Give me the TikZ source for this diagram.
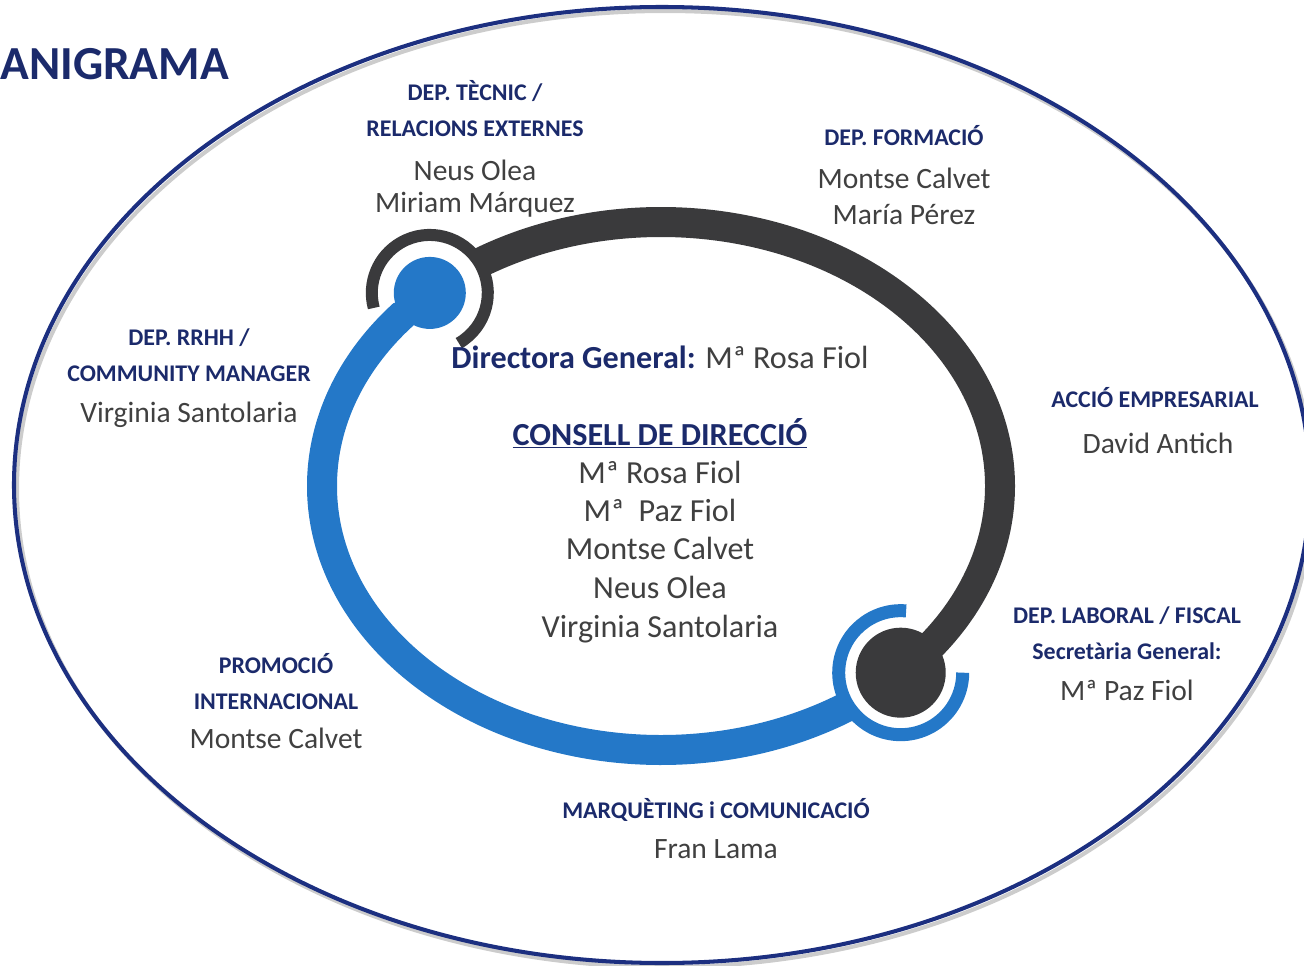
\documentclass[tikz,border=0pt]{standalone}
\usepackage{fontspec}
\setmainfont{Carlito}
\usetikzlibrary{calc}
\definecolor{navy}{HTML}{1B2A6B}
\definecolor{rimblue}{HTML}{1C2F80}
\definecolor{ringblue}{HTML}{2478C8}
\definecolor{ringdark}{HTML}{3A3A3C}
\definecolor{ink}{HTML}{404040}
\tikzset{
  rim/.style={draw=rimblue, line width=2.3pt},
  rimshade/.style={draw=black!20, line width=2.3pt},
  ringb/.style={draw=ringblue, line width=0.6cm},
  ringd/.style={draw=ringdark, line width=0.6cm},
  gap/.style={draw=white, line width=0.34cm},
  title/.style={text=navy, font=\fontsize{27}{32}\selectfont\bfseries, anchor=base west, inner sep=0pt},
  dept/.style={text=navy, font=\fontsize{13.6}{16}\selectfont\bfseries, anchor=base},
  who/.style={text=ink, font=\fontsize{16.8}{20}\selectfont, anchor=base},
  core/.style={text=ink, font=\fontsize{18.3}{22}\selectfont, anchor=base},
}
\begin{document}
\begin{tikzpicture}[x=0.02cm, y=0.02cm]
  \useasboundingbox (0,0) rectangle (1304,965);
  % outer frame
  \draw[rimshade] (665,476) ellipse[x radius=648, y radius=478];
  \draw[rim] (662,480) ellipse[x radius=648, y radius=478];
  % ring
  \coordinate (ctr) at (661,479);
  \coordinate (tl) at ($(ctr)+(133:339 and 264)$);
  \coordinate (br) at ($(ctr)+(-45:339 and 264)$);
  \draw[ringb] (tl) arc[start angle=133, end angle=315, x radius=339, y radius=264];
  \draw[ringd] (br) arc[start angle=-45, end angle=133, x radius=339, y radius=264];
  % top-left knob
  \draw[gap] ([shift={(-60:44)}]tl) arc[start angle=-60, end angle=195, radius=44];
  \draw[ringdark, line width=0.24cm] ([shift={(-60:58)}]tl) arc[start angle=-60, end angle=195, radius=58];
  \fill[ringblue] (tl) circle[radius=36];
  % bottom-right knob
  \draw[gap] ([shift={(85:53)}]br) arc[start angle=85, end angle=360, radius=53];
  \draw[ringblue, line width=0.26cm] ([shift={(85:62)}]br) arc[start angle=85, end angle=360, radius=62];
  \fill[ringdark] (br) circle[radius=45];

  \node[title] (ttl) at (0,885) {ANIGRAMA};

  \node[dept] (tec1) at (475,864) {DEP. TÈCNIC /};
  \node[dept] (tec2) at (475,828) {RELACIONS EXTERNES};
  \node[who] (tec3) at (475,784) {Neus Olea};
  \node[who] (tec4) at (475,752) {Miriam Márquez};

  \node[dept] (for1) at (904,819) {DEP. FORMACIÓ};
  \node[who] (for2) at (904,776) {Montse Calvet};
  \node[who] (for3) at (904,741) {María Pérez};

  \node[dept] (rh1) at (189,620) {DEP. RRHH /};
  \node[dept] (rh2) at (189,584) {COMMUNITY MANAGER};
  \node[who] (rh3) at (189,543) {Virginia Santolaria};

  \node[dept] (acc1) at (1155,558) {ACCIÓ EMPRESARIAL};
  \node[who] (acc2) at (1158,512) {David Antich};

  \node[core] (dir) at (660,597) {{\bfseries\color{navy}Directora General:} Mª Rosa Fiol};
  \node[core, text=navy, font=\fontsize{18.3}{22}\selectfont\bfseries] (cons) at (660,520) {\underline{CONSELL DE DIRECCIÓ}};
  \foreach \nm/\yy [count=\i] in {Mª Rosa Fiol/482, Mª\ \ Paz Fiol/444, Montse Calvet/406, Neus Olea/367, Virginia Santolaria/328}
    \node[core] (cons\i) at (660,\yy) {\nm};

  \node[dept] (lab1) at (1127,342) {DEP. LABORAL / FISCAL};
  \node[dept] (lab2) at (1127,306) {Secretària General:};
  \node[who] (lab3) at (1127,265) {Mª Paz Fiol};

  \node[dept] (pro1) at (276,292) {PROMOCIÓ};
  \node[dept] (pro2) at (276,256) {INTERNACIONAL};
  \node[who] (pro3) at (276,217) {Montse Calvet};

  \node[dept] (mar1) at (716,147) {MARQUÈTING i COMUNICACIÓ};
  \node[who] (mar2) at (716,107) {Fran Lama};
\end{tikzpicture}
\end{document}
